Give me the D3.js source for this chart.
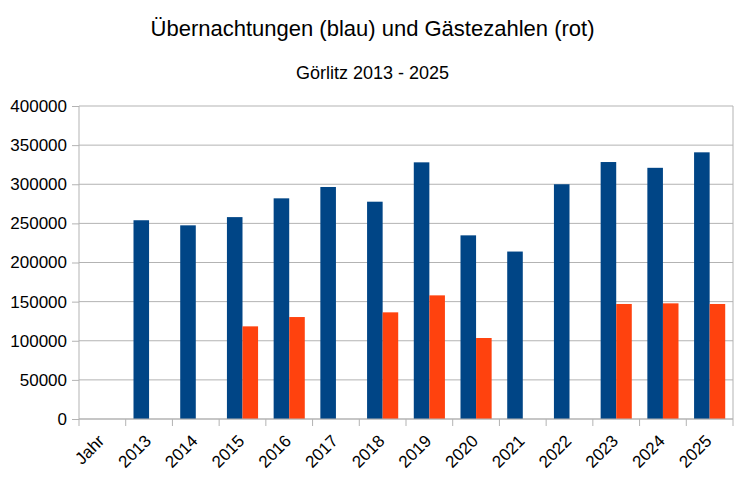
<!DOCTYPE html>
<html>
<head>
<meta charset="utf-8">
<script src="https://cdn.jsdelivr.net/npm/d3@7"></script>
<style>
    body { margin: 0; background: #fff; }
    text { font-family: "Liberation Sans", Arial, sans-serif; fill: #000; }
    .axis path, .axis line { stroke: #b3b3b3; }
    .grid line { stroke: #b3b3b3; }
</style>
</head>
<body>
<div id="chart"></div>
<script>
// categories on the x axis ("Jahr" is the header row that ended up as a category)
const years = ["Jahr", "2013", "2014", "2015", "2016", "2017", "2018", "2019",
               "2020", "2021", "2022", "2023", "2024", "2025"];
// Übernachtungen (blue), null = no value
const overnights = [null, 254000, 247500, 258000, 282000, 296500, 277700, 328000,
                    234700, 214000, 300000, 328400, 321000, 340800];
// Gästezahlen (red)
const guests = [null, null, null, 118400, 130300, null, 136300, 158000,
                103500, null, null, 147000, 147800, 147000];
const yTicks = [0, 50000, 100000, 150000, 200000, 250000, 300000, 350000, 400000];

const seriesNames = ["overnights", "guests"];
const colors = { overnights: "#004586", guests: "#ff420e" };

const width = 745, height = 479;
const margin = { top: 106, right: 12, bottom: 60, left: 79 };
const innerW = width - margin.left - margin.right;
const innerH = height - margin.top - margin.bottom;

const svg = d3.select("#chart").append("svg")
    .attr("width", width)
    .attr("height", height);

// titles
svg.append("text")
    .attr("x", width / 2).attr("y", 36)
    .attr("text-anchor", "middle")
    .style("font-size", "22px")
    .text("Übernachtungen (blau) und Gästezahlen (rot)");

svg.append("text")
    .attr("x", width / 2).attr("y", 79)
    .attr("text-anchor", "middle")
    .style("font-size", "18px")
    .text("Görlitz 2013 - 2025");

const g = svg.append("g")
    .attr("transform", "translate(" + margin.left + "," + margin.top + ")");

// scales
const x0 = d3.scaleBand().domain(years).range([0, innerW]).padding(0);
const x1 = d3.scaleBand().domain(seriesNames).range([0, x0.bandwidth()])
    .paddingInner(0).paddingOuter(0.5);
const y = d3.scaleLinear().domain([0, 400000]).range([innerH, 0]);

// horizontal grid lines
g.append("g").attr("class", "grid")
    .selectAll("line")
    .data(yTicks)
    .enter().append("line")
    .attr("x1", 0).attr("x2", innerW)
    .attr("y1", d => y(d)).attr("y2", d => y(d));

// right border of the plot area
g.append("line")
    .attr("x1", innerW).attr("x2", innerW)
    .attr("y1", 0).attr("y2", innerH)
    .style("stroke", "#b3b3b3");

// bars
const rows = years.map((yr, i) => ({ year: yr, overnights: overnights[i], guests: guests[i] }));

const groups = g.selectAll(".year")
    .data(rows)
    .enter().append("g")
    .attr("class", "year")
    .attr("transform", d => "translate(" + x0(d.year) + ",0)");

groups.selectAll("rect")
    .data(d => seriesNames.filter(s => d[s] != null).map(s => ({ key: s, value: d[s] })))
    .enter().append("rect")
    .attr("x", d => x1(d.key))
    .attr("width", x1.bandwidth())
    .attr("y", d => y(d.value))
    .attr("height", d => innerH - y(d.value))
    .style("fill", d => colors[d.key]);

// y axis
const yAxis = g.append("g")
    .attr("class", "y axis")
    .call(d3.axisLeft(y).tickValues(yTicks).tickSize(7).tickPadding(5).tickFormat(d3.format("d")));
yAxis.select(".domain").attr("d", "M0," + innerH + "V0");
yAxis.selectAll("text").style("font-size", "17px");

// x axis: ticks on band boundaries, labels rotated
const xAxis = g.append("g")
    .attr("class", "x axis")
    .attr("transform", "translate(0," + innerH + ")");

xAxis.append("line")
    .attr("x1", 0).attr("x2", innerW);

xAxis.selectAll(".tick")
    .data(years.concat(["end"]))
    .enter().append("line")
    .attr("x1", (d, i) => i * x0.step()).attr("x2", (d, i) => i * x0.step())
    .attr("y1", 0).attr("y2", 7);

xAxis.selectAll(".label")
    .data(years)
    .enter().append("text")
    .attr("class", "label")
    .attr("text-anchor", "end")
    .attr("transform", d => "translate(" + (x0(d) + x0.bandwidth() / 2 + 3) + ",23) rotate(-45)")
    .style("font-size", "17px")
    .text(d => d);
</script>
</body>
</html>
